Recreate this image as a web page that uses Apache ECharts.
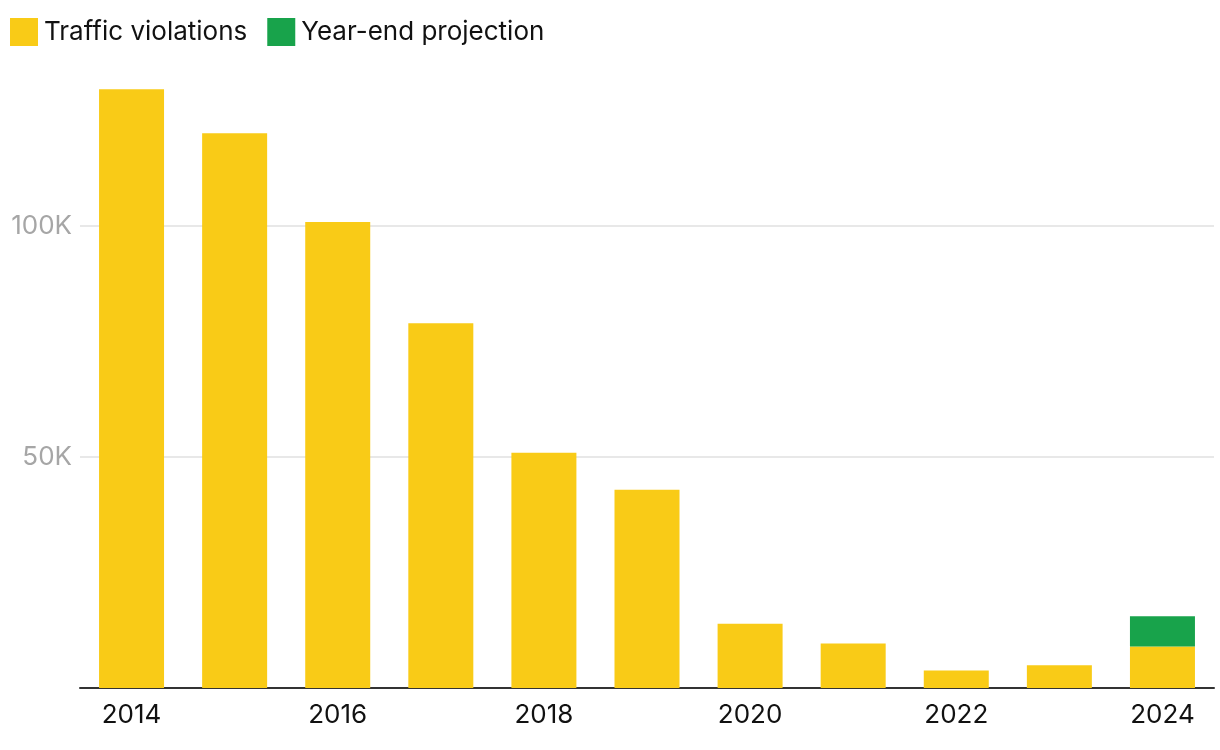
<!DOCTYPE html>
<html>
<head>
<meta charset="utf-8">
<script src="https://cdn.jsdelivr.net/npm/echarts@6/dist/echarts.min.js"></script>
<style>
html,body{margin:0;padding:0;background:#fff;}
#chart{width:1220px;height:750px;}
</style>
</head>
<body>
<div id="chart"></div>
<script>
const years = ['2014','2015','2016','2017','2018','2019','2020','2021','2022','2023','2024'];
const violations = [129500, 120000, 100800, 78900, 50900, 42900, 13900, 9600, 3800, 4900, 9000];
const projection = [null, null, null, null, null, null, null, null, null, null, 6500];
const yTicks = [50000, 100000];

const chart = echarts.init(document.getElementById('chart'));
chart.setOption({
  animation: false,
  textStyle: { fontFamily: 'Inter' },
  legend: {
    left: 5, top: 13,
    itemWidth: 28, itemHeight: 28, itemGap: 20,
    icon: 'rect',
    textStyle: { fontSize: 26, color: '#111', fontFamily: 'Inter', padding: [0,0,0,1] },
    data: ['Traffic violations', 'Year-end projection']
  },
  grid: { left: 80, right: 6, top: 87, bottom: 62, containLabel: false },
  xAxis: {
    type: 'category',
    data: years,
    axisLine: { lineStyle: { color: '#333', width: 2 } },
    axisTick: { show: false },
    axisLabel: { interval: 1, fontSize: 26, color: '#111', margin: 14, fontFamily: 'Inter' }
  },
  yAxis: {
    type: 'value',
    min: 0, max: 130000, interval: 50000,
    axisLine: { show: false },
    axisTick: { show: false },
    axisLabel: {
      showMinLabel: false, showMaxLabel: false,
      fontSize: 26, color: '#a6a6a6', margin: 8, fontFamily: 'Inter',
      formatter: v => yTicks.includes(v) ? (v / 1000) + 'K' : ''
    },
    splitLine: { show: true, showMinLine: false, showMaxLine: false, lineStyle: { color: '#e0e0e0', width: 1.5 } }
  },
  series: [
    {
      name: 'Traffic violations', type: 'bar', stack: 'total',
      barWidth: 65,
      itemStyle: { color: '#F9CB17' },
      data: violations
    },
    {
      name: 'Year-end projection', type: 'bar', stack: 'total',
      barWidth: 65,
      itemStyle: { color: '#18A34B' },
      data: projection
    }
  ]
});
</script>
</body>
</html>
